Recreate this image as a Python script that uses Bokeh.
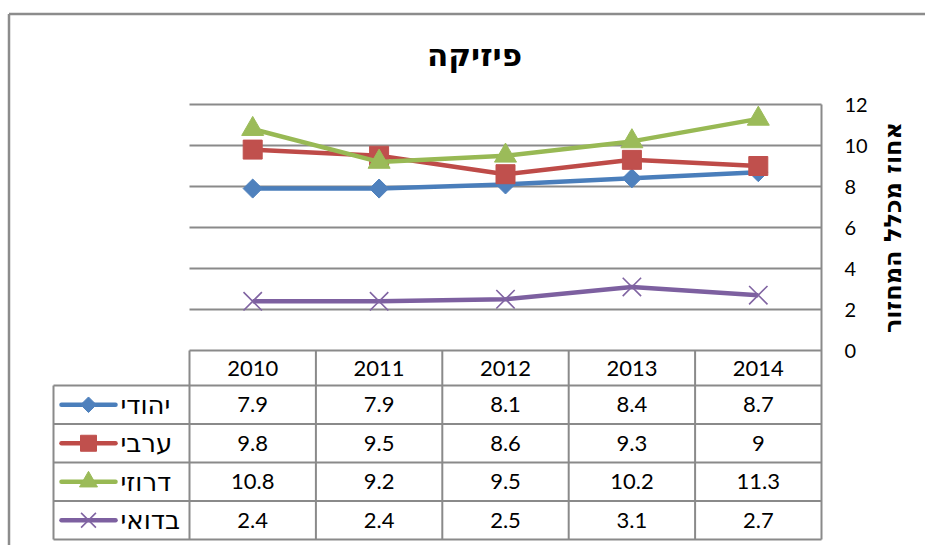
import math
from bokeh.plotting import figure
from bokeh.embed import file_html
from bokeh.resources import INLINE
from bokeh.core.properties import value

# ---------------- data ----------------
years = ["2010", "2011", "2012", "2013", "2014"]
jewish = [7.9, 7.9, 8.1, 8.4, 8.7]
arab = [9.8, 9.5, 8.6, 9.3, 9]
druze = [10.8, 9.2, 9.5, 10.2, 11.3]
bedouin = [2.4, 2.4, 2.5, 3.1, 2.7]
series_names = ["יהודי", "ערבי", "דרוזי", "בדואי"]
y_ticks = [0, 2, 4, 6, 8, 10, 12]
title_text = "פיזיקה"
y_title = "אחוז מכלל המחזור"

# ---------------- layout (canvas pixels) ----------------
W, H = 925, 545
COL_PX = 126.4          # width of one category column
COL0_LEFT = 189         # left edge of first category column
ZERO_PY = 350           # canvas y of value 0
UNIT_PY = 20.5          # pixels per value unit

x_start = -0.5 - COL0_LEFT / COL_PX
x_end = x_start + W / COL_PX
y_end = ZERO_PY / UNIT_PY
y_start = -(H - ZERO_PY) / UNIT_PY


def X(px):
    return x_start + px / COL_PX


def Y(py):
    return (ZERO_PY - py) / UNIT_PY


HEADER_BOTTOM = 385
ROW_H = 38.5
row_edges = [HEADER_BOTTOM + k * ROW_H for k in range(5)]
LEG_LEFT = 53

p = figure(width=W, height=H, output_backend="svg", toolbar_location=None,
           x_range=(x_start, x_end), y_range=(y_start, y_end),
           x_axis_location=None, y_axis_location=None,
           min_border=0, min_border_left=0, min_border_right=0,
           min_border_top=0, min_border_bottom=0)
p.outline_line_color = None
p.grid.visible = False
p.background_fill_color = "white"
p.border_fill_color = "white"

GRID_C = "#8a8a8a"
n = len(years)
xs = list(range(n))
left_edge = -0.5
right_edge = n - 0.5
bottom_y = Y(row_edges[-1])

# outer chart border (top & left)
p.segment(x0=[X(8.5), X(8.5)], y0=[Y(13.5), Y(13.5)], x1=[X(8.5), X(W)], y1=[Y(H), Y(13.5)],
          line_color="#8c8c8c", line_width=2.5)

# horizontal gridlines (value 0 line is also the table top)
p.segment(x0=[left_edge] * len(y_ticks), x1=[right_edge] * len(y_ticks),
          y0=y_ticks, y1=y_ticks, line_color=GRID_C, line_width=2)
# right edge of plot area down through the table
p.segment(x0=[right_edge], x1=[right_edge], y0=[y_ticks[-1]], y1=[bottom_y],
          line_color=GRID_C, line_width=2)
# table column separators
p.segment(x0=[left_edge + k for k in range(n)], x1=[left_edge + k for k in range(n)],
          y0=[0] * n, y1=[bottom_y] * n, line_color=GRID_C, line_width=2)
# legend column left border
p.segment(x0=[X(LEG_LEFT)], x1=[X(LEG_LEFT)], y0=[Y(row_edges[0])], y1=[bottom_y],
          line_color=GRID_C, line_width=2)
# table row lines
p.segment(x0=[X(LEG_LEFT)] * len(row_edges), x1=[right_edge] * len(row_edges),
          y0=[Y(e) for e in row_edges], y1=[Y(e) for e in row_edges],
          line_color=GRID_C, line_width=2)

# ---------------- series ----------------
all_series = [jewish, arab, druze, bedouin]
line_colors = ["#4a7ebb", "#be4b48", "#98b954", "#7d60a0"]
mark_colors = ["#4f81bd", "#c0504d", "#9bbb59", "#8064a2"]
markers = ["square", "square", "triangle", "x"]
angles = [math.pi / 4, 0, 0, 0]
sizes = [13.5, 19, 22, 26]
leg_sizes = [11, 16, 18, 21]

for vals, lc, mc, mk, ang, sz in zip(all_series, line_colors, mark_colors, markers, angles, sizes):
    p.line(x=xs, y=vals, line_color=lc, line_width=4.5, line_join="round")
    if mk == "x":
        p.scatter(x=xs, y=vals, marker=mk, size=sz, line_color=mc, line_width=1.6)
    else:
        p.scatter(x=xs, y=vals, marker=mk, size=sz, angle=ang,
                  fill_color=mc, line_color=mc, line_width=1)

# ---------------- title & value axis text ----------------
HEB = value("DejaVu Sans")
NUM = value("Lato")

p.text(x=[X(474)], y=[Y(54)], text=[title_text], text_align="center",
       text_baseline="middle", text_font=HEB,
       text_font_style="bold", text_font_size="31px", text_color="black")

p.text(x=[X(844)] * len(y_ticks), y=y_ticks, text=[str(t) for t in y_ticks],
       text_align="left", text_baseline="middle", text_font=NUM,
       text_font_size="20px", text_color="black")

p.text(x=[X(892)], y=[(y_ticks[0] + y_ticks[-1]) / 2], text=[y_title], angle=math.pi / 2,
       text_align="center", text_baseline="middle", text_font=HEB,
       text_font_style="bold", text_font_size="24px", text_color="black")

# ---------------- data table ----------------
header_y = Y((ZERO_PY + HEADER_BOTTOM) / 2)
p.text(x=xs, y=[header_y] * n, text=years, text_align="center", text_baseline="middle",
       text_font=NUM, text_font_size="22px", text_color="black")

row_centers = [Y((row_edges[r] + row_edges[r + 1]) / 2) for r in range(4)]
cell_x, cell_y, cell_t = [], [], []
for r, vals in enumerate(all_series):
    for i, v in enumerate(vals):
        cell_x.append(i)
        cell_y.append(row_centers[r])
        cell_t.append(f"{v:g}")
p.text(x=cell_x, y=cell_y, text=cell_t, text_align="center", text_baseline="middle",
       text_font=NUM, text_font_size="22px", text_color="black")

# legend keys in table
for r, (lc, mc, mk, ang, sz) in enumerate(zip(line_colors, mark_colors, markers, angles, leg_sizes)):
    yc = row_centers[r]
    p.line(x=[X(61), X(115)], y=[yc, yc], line_color=lc, line_width=4.5, line_cap="round")
    if mk == "x":
        p.scatter(x=[X(88)], y=[yc], marker=mk, size=sz, line_color=mc, line_width=1.6)
    else:
        p.scatter(x=[X(88)], y=[yc], marker=mk, size=sz, angle=ang,
                  fill_color=mc, line_color=mc, line_width=1)

p.text(x=[X(120)] * 4, y=row_centers, text=series_names, text_align="left",
       text_baseline="middle", text_font=HEB,
       text_font_size="26px", text_color="black")

open("out.html", "w").write(file_html(p, INLINE))
